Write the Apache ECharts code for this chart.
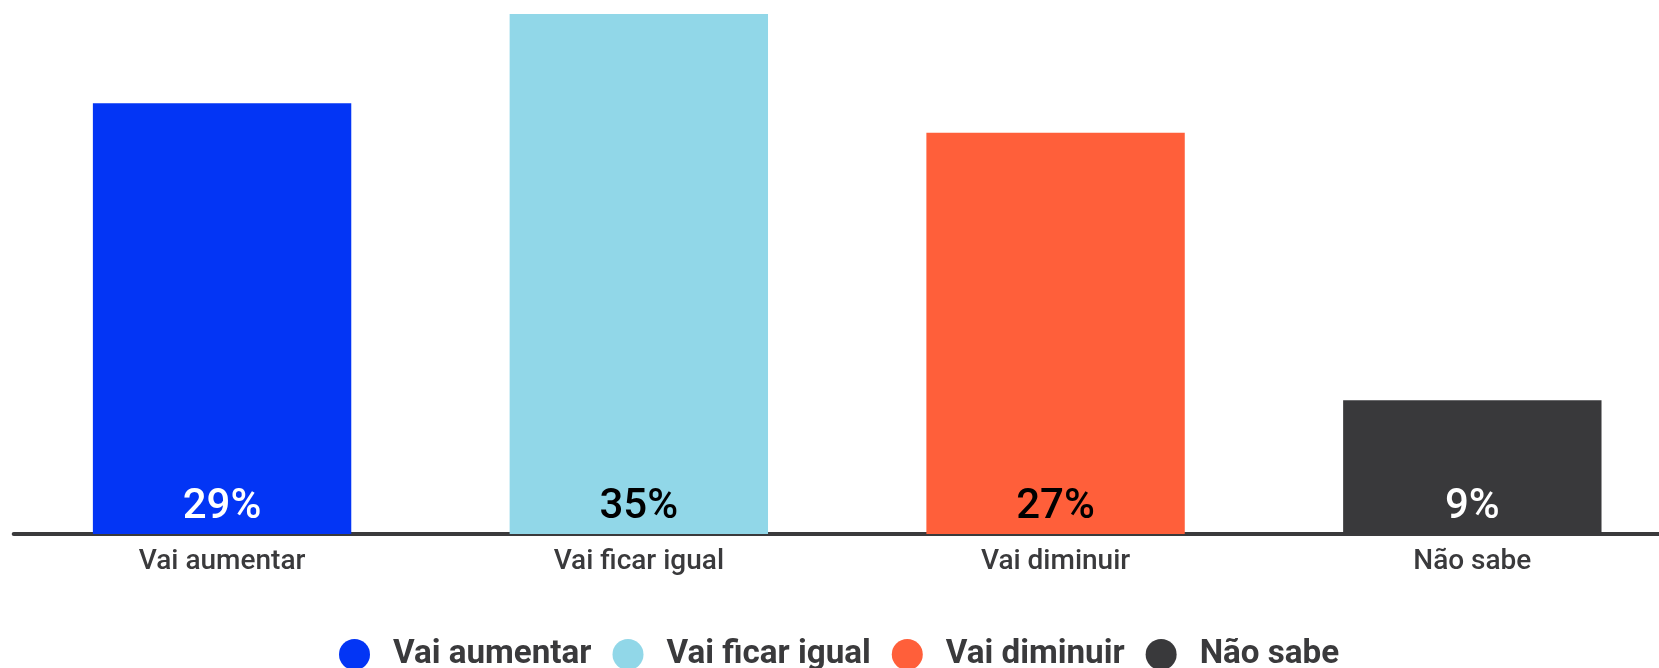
<!DOCTYPE html>
<html>
<head>
<meta charset="utf-8">
<script src="https://cdn.jsdelivr.net/npm/echarts@6/dist/echarts.min.js"></script>
<style>
html,body{margin:0;padding:0;background:#fff;}
#chart{width:1659px;height:668px;}
</style>
</head>
<body>
<div id="chart"></div>
<script>
const categories = ["Vai aumentar", "Vai ficar igual", "Vai diminuir", "Não sabe"];
const values = [29, 35, 27, 9];
const colors = ["#0335F5", "#91D7E8", "#FF5F3A", "#39393B"];
const labelColors = ["#ffffff", "#000000", "#000000", "#ffffff"];

const series = categories.map((name, i) => ({
  name: name,
  type: 'bar',
  stack: 'total',
  barWidth: '62%',
  data: categories.map((c, j) => j === i ? values[i] : '-'),
  itemStyle: { color: colors[i] },
  label: {
    show: true,
    position: 'insideBottom',
    distance: 6,
    formatter: '{c}%',
    color: labelColors[i],
    fontFamily: 'Roboto',
    fontSize: 42,
    fontWeight: 500
  }
}));

const chart = echarts.init(document.getElementById('chart'));
chart.setOption({
  animation: false,
  color: colors,
  grid: { left: 13.7, width: 1667, top: 14, bottom: 134, containLabel: false, outerBoundsMode: 'none' },
  legend: {
    data: categories,
    top: 638,
    left: 339,
    padding: 0,
    icon: 'circle',
    itemWidth: 31,
    itemHeight: 31,
    itemGap: 21,
    textStyle: { fontFamily: 'Roboto', fontSize: 33.2, fontWeight: 'bold', color: '#3a3a3c', padding: [0, 0, 0, 18] }
  },
  xAxis: {
    type: 'category',
    data: categories,
    axisLine: { lineStyle: { color: '#3a3a3c', width: 4 } },
    axisTick: { show: false },
    axisLabel: { fontFamily: 'Roboto', fontSize: 28, fontWeight: 500, color: '#3a3a3c', margin: 14 }
  },
  yAxis: {
    type: 'value',
    min: 0,
    max: 35,
    show: false,
    splitLine: { show: false }
  },
  series: series
});
</script>
</body>
</html>
